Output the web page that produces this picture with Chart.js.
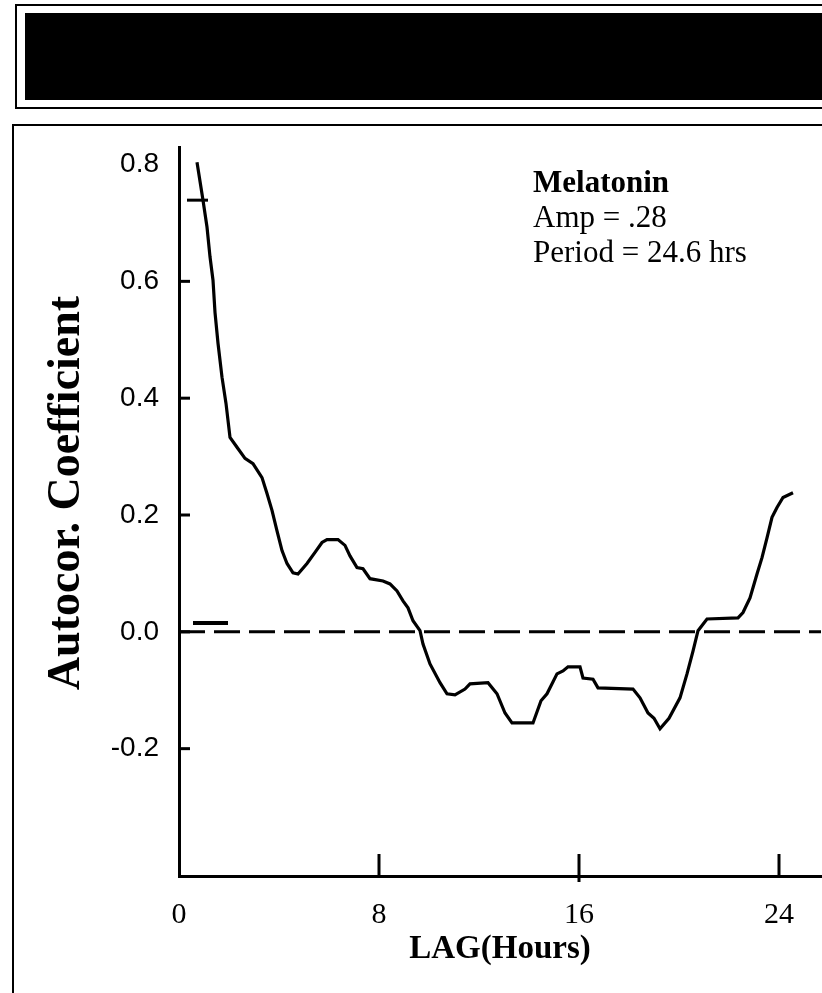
<!DOCTYPE html>
<html>
<head>
<meta charset="utf-8">
<script src="https://cdn.jsdelivr.net/npm/chart.js@4.4.1/dist/chart.umd.min.js"></script>
<style>
  html, body { margin: 0; padding: 0; background: #fff; }
  body { width: 822px; height: 993px; position: relative; overflow: hidden; }
  .banner { position: absolute; left: 15px; top: 4px; width: 830px; height: 101px; border: 2px solid #000; }
  .banner-fill { position: absolute; left: 25px; top: 13px; width: 820px; height: 87px; background: #000; }
  .frame { position: absolute; left: 12px; top: 124px; width: 830px; height: 900px; border-left: 2px solid #000; border-top: 2px solid #000; }
  #chart { position: absolute; left: 0; top: 0; }
</style>
</head>
<body>
<div class="banner"></div>
<div class="banner-fill"></div>
<div class="frame"></div>
<canvas id="chart" width="822" height="993"></canvas>
<script>
// autocorrelation of melatonin
const lagHours = [0.72, 0.96, 1.12, 1.24, 1.36, 1.44, 1.56, 1.72, 1.88, 1.96, 2.04, 2.32, 2.64, 2.96,
  3.32, 3.52, 3.72, 3.92, 4.12, 4.32, 4.56, 4.76, 5.12, 5.44, 5.72, 5.92, 6.36, 6.64, 6.84, 7.12,
  7.36, 7.64, 8.16, 8.44, 8.72, 8.96, 9.16, 9.36, 9.64, 9.76, 10.04, 10.44, 10.72, 11.04, 11.44,
  11.64, 12.36, 12.72, 13.04, 13.32, 14.16, 14.48, 14.72, 15.12, 15.36, 15.56, 16.04, 16.16, 16.56,
  16.76, 18.16, 18.44, 18.76, 19.0, 19.24, 19.6, 20.04, 20.32, 20.56, 20.76, 21.12, 22.36, 22.56,
  22.84, 23.12, 23.32, 23.52, 23.72, 23.92, 24.16, 24.56];
const autocor = [0.804, 0.739, 0.693, 0.642, 0.602, 0.547, 0.494, 0.436, 0.391, 0.362, 0.333, 0.316, 0.297, 0.288,
  0.264, 0.237, 0.208, 0.173, 0.139, 0.117, 0.101, 0.099, 0.117, 0.136, 0.153, 0.158, 0.158, 0.148, 0.130, 0.110,
  0.108, 0.091, 0.087, 0.082, 0.070, 0.053, 0.041, 0.019, 0.002, -0.021, -0.055, -0.087, -0.106, -0.108, -0.098,
  -0.089, -0.087, -0.106, -0.139, -0.156, -0.156, -0.118, -0.106, -0.072, -0.067, -0.060, -0.060, -0.079, -0.081,
  -0.096, -0.098, -0.113, -0.139, -0.148, -0.166, -0.148, -0.113, -0.072, -0.033, 0.002, 0.022, 0.024, 0.033,
  0.058, 0.099, 0.127, 0.161, 0.196, 0.213, 0.230, 0.238];

// short marks near the start of the plot
const shortBarX = [0.56, 1.96];
const shortBarY = [0.015, 0.015];
const strayTickX = [0.32, 1.16];
const strayTickY = [0.739, 0.739];

const zeroLineX = [0, 25.68];

const xTickValues = [0, 8, 16, 24];
const yTickValues = [0.8, 0.6, 0.4, 0.2, 0.0, -0.2];
const yInnerTicks = [0.6, 0.4, 0.2, 0.0, -0.2];
const xInnerTicks = [8, 16, 24];

const noteLines = ['Melatonin', 'Amp = .28', 'Period = 24.6 hrs'];
const yTitle = 'Autocor. Coefficient';

const serif = '"Liberation Serif", "Times New Roman", serif';
const toPoints = (xs, ys) => xs.map((x, i) => ({ x: x, y: ys[i] }));

const extras = {
  id: 'extras',
  afterDatasetsDraw(chart) {
    const { ctx, chartArea } = chart;
    const x = chart.scales.x;
    const y = chart.scales.y;
    ctx.save();
    ctx.strokeStyle = '#000';
    ctx.lineWidth = 3;
    // ticks point inwards on this plot
    yInnerTicks.forEach(v => {
      const py = y.getPixelForValue(v);
      ctx.beginPath();
      ctx.moveTo(chartArea.left, py);
      ctx.lineTo(chartArea.left + 11, py);
      ctx.stroke();
    });
    xInnerTicks.forEach(v => {
      const px = x.getPixelForValue(v);
      ctx.beginPath();
      ctx.moveTo(px, chartArea.bottom + (v === 16 ? 6 : 0));
      ctx.lineTo(px, chartArea.bottom - 22);
      ctx.stroke();
    });

    ctx.fillStyle = '#000';
    ctx.textBaseline = 'alphabetic';
    ctx.textAlign = 'left';
    const left = x.getPixelForValue(14.16);
    noteLines.forEach((t, i) => {
      ctx.font = (i === 0 ? 'bold ' : '') + '31px ' + serif;
      ctx.fillText(t, left, 192 + i * 35);
    });

    // y title, a bit above the centre of the axis
    ctx.translate(67, 493);
    ctx.rotate(-Math.PI / 2);
    ctx.font = 'bold 46px ' + serif;
    ctx.textAlign = 'center';
    ctx.textBaseline = 'middle';
    ctx.fillText(yTitle, 0, 0);
    ctx.restore();
  }
};

const ctx = document.getElementById('chart').getContext('2d');
const myChart = new Chart(ctx, {
  type: 'line',
  data: {
    datasets: [
      {
        label: 'Melatonin',
        data: toPoints(lagHours, autocor),
        borderColor: '#000',
        borderWidth: 3.2,
        pointRadius: 0,
        tension: 0,
      },
      {
        label: 'zero',
        data: toPoints(zeroLineX, [0, 0]),
        borderColor: '#000',
        borderWidth: 3,
        borderDash: [26, 9],
        pointRadius: 0,
      },
      {
        label: 'bar',
        data: toPoints(shortBarX, shortBarY),
        borderColor: '#000',
        borderWidth: 4,
        pointRadius: 0,
      },
      {
        label: 'tick',
        data: toPoints(strayTickX, strayTickY),
        borderColor: '#000',
        borderWidth: 3,
        pointRadius: 0,
      },
    ],
  },
  options: {
    responsive: false,
    animation: false,
    layout: { padding: { left: 0, top: 147, right: 1, bottom: 0 } },
    plugins: {
      legend: { display: false },
      tooltip: { enabled: false },
    },
    scales: {
      x: {
        type: 'linear',
        min: 0,
        max: 25.68,
        afterBuildTicks: (scale) => { scale.ticks = xTickValues.map(v => ({ value: v })); },
        afterFit: (scale) => { scale.height = 117; },
        grid: { drawOnChartArea: false, drawTicks: false },
        border: { color: '#000', width: 3 },
        ticks: {
          color: '#000',
          padding: 21,
          maxRotation: 0,
          font: { family: serif, size: 30 },
        },
        title: {
          display: true,
          text: 'LAG(Hours)',
          color: '#000',
          padding: { top: 0, bottom: 24 },
          font: { family: serif, size: 33, weight: 'bold' },
        },
      },
      y: {
        type: 'linear',
        min: -0.418,
        max: 0.83,
        afterBuildTicks: (scale) => { scale.ticks = yTickValues.map(v => ({ value: v })); },
        afterFit: (scale) => { scale.width = 179; },
        grid: { drawOnChartArea: false, drawTicks: false },
        border: { color: '#000', width: 3 },
        ticks: {
          color: '#000',
          padding: 20,
          callback: (v) => v.toFixed(1),
          font: { family: '"Liberation Sans", Arial, sans-serif', size: 28 },
        },
        title: { display: false },
      },
    },
  },
  plugins: [extras],
});
</script>
</body>
</html>
